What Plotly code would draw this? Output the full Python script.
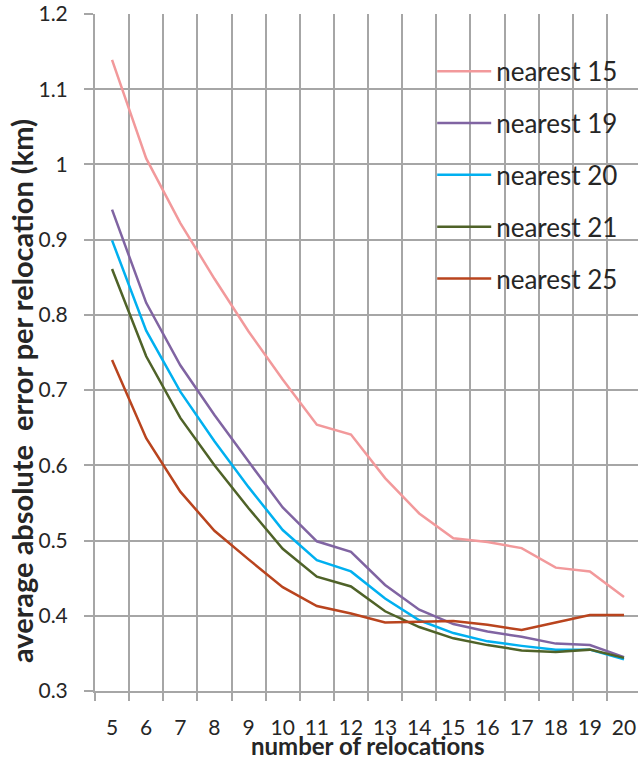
import plotly.graph_objects as go

relocations = ["5", "6", "7", "8", "9", "10", "11", "12", "13", "14", "15", "16", "17", "18", "19", "20"]

nearest_15 = [1.139, 1.008, 0.922, 0.848, 0.778, 0.714, 0.654, 0.641, 0.583, 0.536, 0.503, 0.498, 0.490, 0.464, 0.459, 0.425]
nearest_19 = [0.940, 0.816, 0.733, 0.667, 0.605, 0.544, 0.499, 0.485, 0.441, 0.408, 0.389, 0.379, 0.372, 0.363, 0.361, 0.345]
nearest_20 = [0.899, 0.779, 0.698, 0.632, 0.571, 0.514, 0.474, 0.459, 0.423, 0.394, 0.377, 0.366, 0.360, 0.355, 0.355, 0.342]
nearest_21 = [0.861, 0.745, 0.663, 0.600, 0.543, 0.489, 0.452, 0.439, 0.406, 0.385, 0.370, 0.361, 0.354, 0.352, 0.355, 0.344]
nearest_25 = [0.740, 0.636, 0.565, 0.513, 0.475, 0.438, 0.413, 0.403, 0.391, 0.392, 0.393, 0.388, 0.381, 0.391, 0.401, 0.401]

series_names = ["nearest 15", "nearest 19", "nearest 20", "nearest 21", "nearest 25"]
series_values = [nearest_15, nearest_19, nearest_20, nearest_21, nearest_25]
series_colors = ["#F2999B", "#8064A2", "#00B0F0", "#4F6228", "#B9441E"]

y_ticks = [0.3, 0.4, 0.5, 0.6, 0.7, 0.8, 0.9, 1.0, 1.1, 1.2]
y_tick_text = ["0.3", "0.4", "0.5", "0.6", "0.7", "0.8", "0.9", "1", "1.1", "1.2"]

grid_color = "#A6A6A6"

fig = go.Figure()
for name, vals, col in zip(series_names, series_values, series_colors):
    fig.add_trace(go.Scatter(
        x=relocations, y=vals, name=name, mode="lines",
        line=dict(color=col, width=2.5), legendgroup=name,
    ))

fig.update_layout(
    width=638, height=760,
    margin=dict(l=95, r=0, t=14, b=69),
    paper_bgcolor="white", plot_bgcolor="white",
    font=dict(family="Lato", color="#262626", size=21),
    showlegend=True,
    legend=dict(
        x=0.621, y=0.95, xanchor="left", yanchor="top",
        font=dict(size=26, color="#262626"),
        bgcolor="rgba(0,0,0,0)", tracegroupgap=15, itemwidth=54,
    ),
    xaxis=dict(
        type="category", range=[-0.5, 15.41], tickson="boundaries",
        showgrid=True, gridcolor=grid_color, gridwidth=2,
        showline=True, linecolor=grid_color, linewidth=2,
        ticks="outside", ticklen=8, tickcolor=grid_color, tickwidth=2,
        ticklabelstandoff=17, tickangle=0,
        tickfont=dict(size=21, color="#262626"),
    ),
    yaxis=dict(
        range=[0.3, 1.2], tickvals=y_ticks, ticktext=y_tick_text,
        showgrid=True, gridcolor=grid_color, gridwidth=2,
        showline=True, linecolor=grid_color, linewidth=2,
        ticks="outside", ticklen=9, tickcolor=grid_color, tickwidth=2,
        ticklabelstandoff=12, zeroline=False,
        tickfont=dict(size=21, color="#262626"),
    ),
    annotations=[
        dict(text="<b>number of relocations</b>", xref="paper", yref="paper",
             x=(367 - 95) / 543, y=(691 - 745) / 677, xanchor="center", yanchor="middle",
             showarrow=False, font=dict(size=24, color="#262626")),
        dict(text="<b>average absolute  error per relocation (km)</b>", xref="paper", yref="paper",
             x=(21 - 95) / 543, y=(691 - 391) / 677, xanchor="center", yanchor="middle",
             textangle=-90, showarrow=False, font=dict(size=29, color="#262626")),
    ],
)

fig.write_html("out.html")
